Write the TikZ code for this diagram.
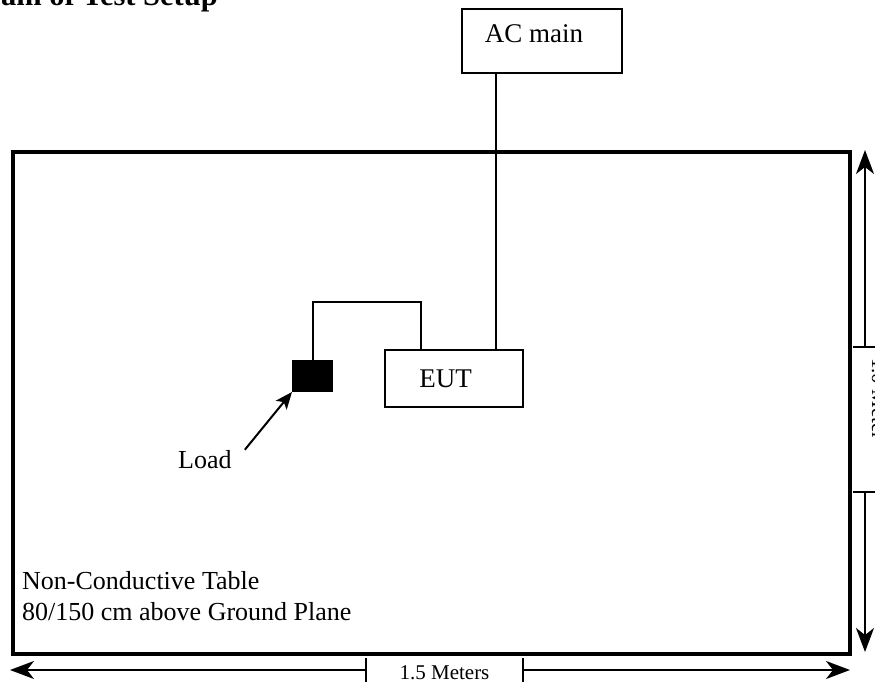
\documentclass[tikz,border=0pt]{standalone}
\usepackage{fontspec}
\setmainfont{Liberation Serif}
\usetikzlibrary{arrows.meta}
\tikzset{
  box/.style={draw, line width=2pt, inner sep=0pt, font=\fontsize{27}{32}\selectfont},
  lbl/.style={inner sep=0pt, font=\fontsize{26}{31}\selectfont},
  dim/.style={line width=2pt},
  wire/.style={line width=2pt},
  dimtip/.tip={Stealth[length=24pt, width=18pt, inset=7pt]},
  dimbar/.tip={Bar[width=24pt]},
}

\begin{document}
\begin{tikzpicture}[x=1pt, y=-1pt]
      \useasboundingbox (0,0) rectangle (875,682);

      \node[anchor=base east, inner sep=0pt, font=\fontsize{30.5}{34}\selectfont\bfseries] (title) at (218,6) {Diagram of Test Setup};

      \node[draw, line width=3.5pt, minimum width=837pt, minimum height=502pt] (table) at (431.5,403) {};
      \node[box, minimum width=160pt, minimum height=64pt, text height=18pt, text depth=14pt] (acmain) at (542,41) {AC main\hspace*{16pt}};
      \node[box, minimum width=138pt, minimum height=57pt] (eut) at (454,378.5) {EUT\hspace*{17pt}};
      \node[draw, fill=black, line width=1pt, minimum width=40pt, minimum height=31pt] (load) at (312.5,376) {};

      \node[lbl, anchor=base west] (loadlbl) at (178,468) {Load};
      \node[lbl, anchor=base west, align=left] (tablelbl) at (22,620) {Non-Conductive Table\\80/150 cm above Ground Plane};

      \draw[wire] ([xshift=35pt]acmain.south west) -- ([xshift=112pt]eut.north west);
      \draw[wire] ([xshift=37pt]eut.north west) -- ++(0,-47) -| (load.north);
      \draw[wire, -{Stealth[length=17pt, width=14pt, inset=4pt]}] ([xshift=13pt]loadlbl.north east) -- (load.south west);

      \coordinate (bl) at (10,670);
      \coordinate (blm) at (367,670);
      \coordinate (brm) at (522,670);
      \coordinate (br) at (850,670);
      \draw[dim, dimtip-dimbar] (bl) -- (blm);
      \draw[dim, dimbar-dimtip] (brm) -- (br);
      \node[inner sep=0pt, anchor=base, font=\fontsize{21}{24}\selectfont] (hlbl) at (444.5,679) {1.5 Meters};

      \coordinate (rt) at (865,150);
      \coordinate (rtm) at (865,348);
      \coordinate (rbm) at (865,491);
      \coordinate (rb) at (865,652);
      \draw[dim, dimbar-dimtip] (rtm) -- (rt);
      \draw[dim, dimbar-dimtip] (rbm) -- (rb);
      \node[inner sep=0pt, rotate=-90, anchor=base, font=\fontsize{21}{24}\selectfont] (vlbl) at (872,399) {1.0 Meter};
\end{tikzpicture}
\end{document}
